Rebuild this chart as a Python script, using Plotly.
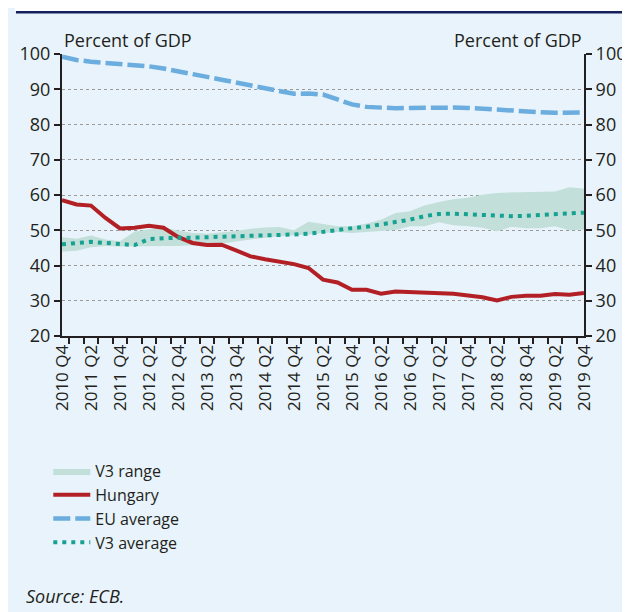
import plotly.graph_objects as go

quarters = []
for y in range(2010, 2020):
    for q in range(1, 5):
        if y == 2010 and q < 4:
            continue
        quarters.append(f"{y} Q{q}")

hungary = [58.5, 57.3, 57.0, 53.5, 50.5, 50.7, 51.3, 50.7, 48.1, 46.4, 45.8, 45.9, 44.3,
           42.6, 41.8, 41.2, 40.4, 39.3, 36.0, 35.2, 33.1, 33.1, 32.0, 32.6, 32.4, 32.4,
           32.2, 32.0, 31.5, 31.0, 30.1, 31.1, 31.4, 31.4, 31.9, 31.7, 32.2]
eu_average = [99.2, 98.3, 97.8, 97.5, 97.2, 96.9, 96.5, 95.9, 95.2, 94.4, 93.5, 92.7, 91.9,
              90.9, 90.0, 89.2, 88.7, 88.8, 88.5, 87.1, 85.7, 85.0, 84.7, 84.6, 84.7, 84.8,
              84.9, 84.8, 84.7, 84.4, 84.2, 84.0, 83.7, 83.5, 83.3, 83.3, 83.4]
v3_average = [46.0, 46.3, 46.7, 46.4, 46.0, 45.8, 47.5, 47.8, 47.9, 47.9, 48.0, 48.1, 48.2,
              48.3, 48.4, 48.6, 48.8, 49.0, 49.6, 50.2, 50.6, 51.0, 51.6, 52.3, 53.0, 54.0,
              54.6, 54.7, 54.5, 54.2, 54.0, 54.0, 54.1, 54.3, 54.5, 54.7, 55.0]
v3_low = [43.9, 44.2, 45.2, 45.5, 45.4, 45.5, 45.4, 45.5, 45.5, 45.7, 45.8, 46.2, 46.8,
          47.4, 47.9, 48.3, 48.5, 48.8, 49.2, 49.5, 49.2, 49.5, 49.7, 50.1, 51.1, 51.1,
          52.3, 51.4, 51.1, 50.7, 49.7, 51.0, 50.6, 50.6, 51.1, 50.0, 50.2]
v3_high = [48.0, 47.6, 48.5, 47.4, 46.9, 49.6, 50.3, 50.8, 49.9, 49.2, 49.0, 49.3, 49.8,
           50.4, 50.8, 50.9, 50.0, 52.4, 51.7, 51.1, 51.1, 51.9, 53.0, 54.9, 55.4, 57.0,
           58.0, 58.8, 59.2, 60.1, 60.6, 60.7, 60.7, 60.9, 61.0, 62.2, 61.8]
tick_labels = [q if q.endswith("Q2") or q.endswith("Q4") else "" for q in quarters]

# figure pixel geometry (page has an 8px body margin)
W, H = 630, 612
L, T = 46, 46
PW, PH = 533, 282
R, B = W - L - PW, H - T - PH
def px_x(p):
    return (p - L) / PW
def px_y(p):
    return (T + PH - p) / PH

FONT = "Open Sans"
BG = "#E8F3FB"
TXT = "#231F20"

fig = go.Figure()
fig.add_trace(go.Scatter(x=quarters, y=v3_low, mode="lines", line=dict(width=0),
                         showlegend=False, hoverinfo="skip"))
fig.add_trace(go.Scatter(x=quarters, y=v3_high, mode="lines", line=dict(width=0),
                         fill="tonexty", fillcolor="#C2DFD9", name="V3 range"))
fig.add_trace(go.Scatter(x=quarters, y=hungary, mode="lines",
                         line=dict(color="#B22025", width=4), name="Hungary"))
fig.add_trace(go.Scatter(x=quarters, y=eu_average, mode="lines",
                         line=dict(color="#6AADDE", width=4.5, dash="17px,5px"),
                         name="EU average"))
fig.add_trace(go.Scatter(x=quarters, y=v3_average, mode="lines",
                         line=dict(color="#16A293", width=4, dash="4px,5px"),
                         name="V3 average"))
fig.add_trace(go.Scatter(x=quarters, y=eu_average, mode="lines", yaxis="y2",
                         line=dict(width=0, color="rgba(0,0,0,0)"),
                         showlegend=False, hoverinfo="skip"))

axis_common = dict(range=[20, 100], dtick=10, tick0=20, showline=True, linecolor=TXT,
                   linewidth=2, ticks="outside", ticklen=6, tickwidth=2, tickcolor=TXT,
                   tickfont=dict(family=FONT, size=18, color=TXT), zeroline=False)

fig.update_layout(
    width=W, height=H,
    margin=dict(l=L, r=R, t=T, b=B),
    paper_bgcolor=BG, plot_bgcolor=BG,
    font=dict(family=FONT, color=TXT),
    xaxis=dict(type="category", tickmode="array", tickvals=quarters, ticktext=tick_labels,
               tickson="boundaries", ticks="outside", ticklen=6, tickwidth=2, tickcolor=TXT,
               tickangle=-90, showline=True, linecolor=TXT, linewidth=2, showgrid=False,
               tickfont=dict(family=FONT, size=17, color=TXT)),
    yaxis=dict(**axis_common, showgrid=True, gridcolor="#9A9A9A", gridwidth=1, griddash="dot"),
    yaxis2=dict(**axis_common, overlaying="y", side="right", showgrid=False),
    legend=dict(x=px_x(32), y=px_y(446), xanchor="left", yanchor="top",
                traceorder="normal",
                bgcolor="rgba(0,0,0,0)", font=dict(family=FONT, size=16, color=TXT),
                itemwidth=37, tracegroupgap=0),
    showlegend=True,
    shapes=[
        dict(type="rect", xref="paper", yref="paper", x0=px_x(-2), x1=px_x(W + 2),
             y0=px_y(3), y1=px_y(-2), fillcolor="white", line=dict(width=0), layer="below"),
        dict(type="line", xref="paper", yref="paper", x0=px_x(-1), x1=px_x(W + 2),
             y0=px_y(4.2), y1=px_y(4.2), line=dict(color="#14205E", width=2.4)),
    ],
    annotations=[
        dict(text="Percent of GDP", xref="paper", yref="paper", x=0, y=px_y(32),
             xanchor="left", yanchor="middle", showarrow=False,
             font=dict(family=FONT, size=18, color=TXT)),
        dict(text="Percent of GDP", xref="paper", yref="paper", x=1, y=px_y(32),
             xanchor="right", yanchor="middle", showarrow=False,
             font=dict(family=FONT, size=18, color=TXT)),
        dict(text="<i>Source: ECB.</i>", xref="paper", yref="paper", x=px_x(7), y=px_y(588),
             xanchor="left", yanchor="middle", showarrow=False,
             font=dict(family=FONT, size=18, color=TXT)),
    ],
)

fig.write_html("out.html")
